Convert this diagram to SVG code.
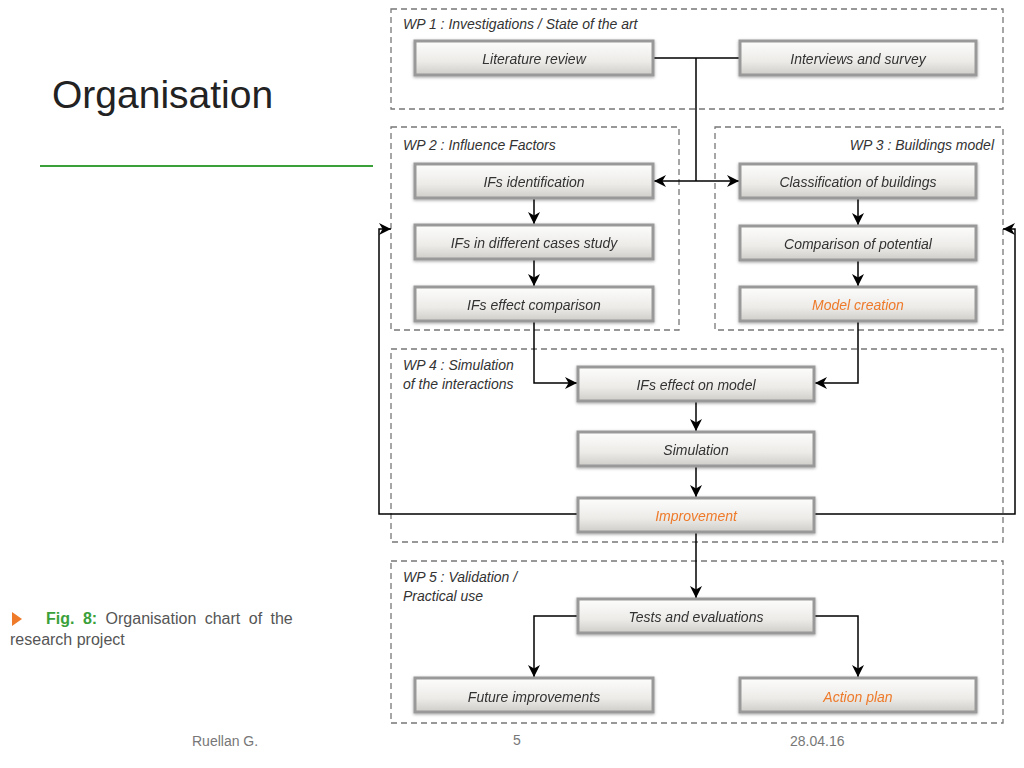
<svg xmlns="http://www.w3.org/2000/svg" width="1024" height="768" viewBox="0 0 1024 768">
<style>
.wp{fill:none;stroke:#777;stroke-width:1.3;stroke-dasharray:6 4}
.box{fill:url(#g);stroke:#999;stroke-width:3}
.t{font-family:"Liberation Sans",Arial,sans-serif;font-style:italic;font-size:14px;fill:#333;text-anchor:middle}
.o{fill:#ee7a2a}
.wt{font-family:"Liberation Sans",Arial,sans-serif;font-style:italic;font-size:14px;fill:#333}
.c{fill:none;stroke:#000;stroke-width:1.5}
.f{font-family:"Liberation Sans",Arial,sans-serif;font-size:14px;fill:#777}
</style>
<defs>
<linearGradient id="g" x1="0" y1="0" x2="0" y2="1"><stop offset="0" stop-color="#fdfdfc"/><stop offset="0.6" stop-color="#ecebe8"/><stop offset="1" stop-color="#cfcdc8"/></linearGradient>
<filter id="s" x="-10%" y="-30%" width="120%" height="160%"><feDropShadow dx="0" dy="1" stdDeviation="1.5" flood-color="#000" flood-opacity="0.35"/></filter>
<marker id="a" viewBox="0 0 10 10" refX="10" refY="5" markerWidth="12" markerHeight="12" orient="auto-start-reverse" markerUnits="userSpaceOnUse"><path d="M0,0 L10,5 L0,10 L3,5 Z" fill="#000"/></marker>
</defs>
<rect width="1024" height="768" fill="#fff"/>
<text x="52" y="108" font-family="Liberation Sans,Arial,sans-serif" font-size="39" fill="#222">Organisation</text>
<line x1="40" y1="166" x2="373" y2="166" stroke="#3aa03a" stroke-width="2"/>
<path d="M12,612 L22,619 L12,626 Z" fill="#ee7a2a"/>
<text x="46" y="624" font-family="Liberation Sans,Arial,sans-serif" font-size="16" fill="#555" word-spacing="4"><tspan font-weight="bold" fill="#3aa03a">Fig. 8:</tspan> Organisation chart   of the</text>
<text x="10" y="645" font-family="Liberation Sans,Arial,sans-serif" font-size="16" fill="#555">research project</text>
<g id="wps">
<rect class="wp" x="391" y="9" width="612" height="100"/>
<rect class="wp" x="391" y="127" width="288" height="203"/>
<rect class="wp" x="715" y="127" width="288" height="203"/>
<rect class="wp" x="391" y="349" width="612" height="193"/>
<rect class="wp" x="391" y="561" width="612" height="162"/>
<text class="wt" x="403" y="29">WP 1 : Investigations / State of the art</text>
<text class="wt" x="403" y="150">WP 2 : Influence Factors</text>
<text class="wt" x="994" y="150" text-anchor="end">WP 3 : Buildings model</text>
<text class="wt" x="403" y="370">WP 4 : Simulation</text>
<text class="wt" x="403" y="389">of the interactions</text>
<text class="wt" x="403" y="582">WP 5 : Validation /</text>
<text class="wt" x="403" y="601">Practical use</text>
</g>
<g id="connectors">
<path class="c" d="M654,58 H739 M696,58 V181"/>
<path class="c" d="M696,181 H654" marker-end="url(#a)"/>
<path class="c" d="M696,181 H739" marker-end="url(#a)"/>
<path class="c" d="M534,199 V224" marker-end="url(#a)"/>
<path class="c" d="M534,260 V286" marker-end="url(#a)"/>
<path class="c" d="M858,199 V225" marker-end="url(#a)"/>
<path class="c" d="M858,261 V286" marker-end="url(#a)"/>
<path class="c" d="M534,322 V383 H577" marker-end="url(#a)"/>
<path class="c" d="M858,322 V383 H815" marker-end="url(#a)"/>
<path class="c" d="M696,402 V431" marker-end="url(#a)"/>
<path class="c" d="M696,467 V497" marker-end="url(#a)"/>
<path class="c" d="M577,514 H379 V229 H391" marker-end="url(#a)"/>
<path class="c" d="M815,514 H1015 V229 H1003" marker-end="url(#a)"/>
<path class="c" d="M696,533 V598" marker-end="url(#a)"/>
<path class="c" d="M577,616 H534 V677" marker-end="url(#a)"/>
<path class="c" d="M815,616 H858 V677" marker-end="url(#a)"/>
</g>
<g id="n1" filter="url(#s)"><rect class="box" x="415" y="41" width="238" height="34"/><text class="t" x="534" y="64">Literature review</text></g>
<g id="n2" filter="url(#s)"><rect class="box" x="740" y="41" width="236" height="34"/><text class="t" x="858" y="64">Interviews and survey</text></g>
<g id="n3" filter="url(#s)"><rect class="box" x="415" y="164" width="238" height="34"/><text class="t" x="534" y="187">IFs identification</text></g>
<g id="n4" filter="url(#s)"><rect class="box" x="740" y="164" width="236" height="34"/><text class="t" x="858" y="187">Classification of buildings</text></g>
<g id="n5" filter="url(#s)"><rect class="box" x="415" y="225" width="238" height="34"/><text class="t" x="534" y="248">IFs in different cases study</text></g>
<g id="n6" filter="url(#s)"><rect class="box" x="740" y="226" width="236" height="34"/><text class="t" x="858" y="249">Comparison of potential</text></g>
<g id="n7" filter="url(#s)"><rect class="box" x="415" y="287" width="238" height="34"/><text class="t" x="534" y="310">IFs effect comparison</text></g>
<g id="n8" filter="url(#s)"><rect class="box" x="740" y="287" width="236" height="34"/><text class="t o" x="858" y="310">Model creation</text></g>
<g id="n9" filter="url(#s)"><rect class="box" x="578" y="367" width="236" height="34"/><text class="t" x="696" y="390">IFs effect on model</text></g>
<g id="n10" filter="url(#s)"><rect class="box" x="578" y="432" width="236" height="34"/><text class="t" x="696" y="455">Simulation</text></g>
<g id="n11" filter="url(#s)"><rect class="box" x="578" y="498" width="236" height="34"/><text class="t o" x="696" y="521">Improvement</text></g>
<g id="n12" filter="url(#s)"><rect class="box" x="578" y="599" width="236" height="34"/><text class="t" x="696" y="622">Tests and evaluations</text></g>
<g id="n13" filter="url(#s)"><rect class="box" x="415" y="678" width="238" height="34"/><text class="t" x="534" y="702">Future improvements</text></g>
<g id="n14" filter="url(#s)"><rect class="box" x="740" y="678" width="236" height="34"/><text class="t o" x="858" y="702">Action plan</text></g>
<text class="f" x="192" y="746">Ruellan G.</text>
<text class="f" x="513" y="745">5</text>
<text class="f" x="790" y="746">28.04.16</text>
</svg>
